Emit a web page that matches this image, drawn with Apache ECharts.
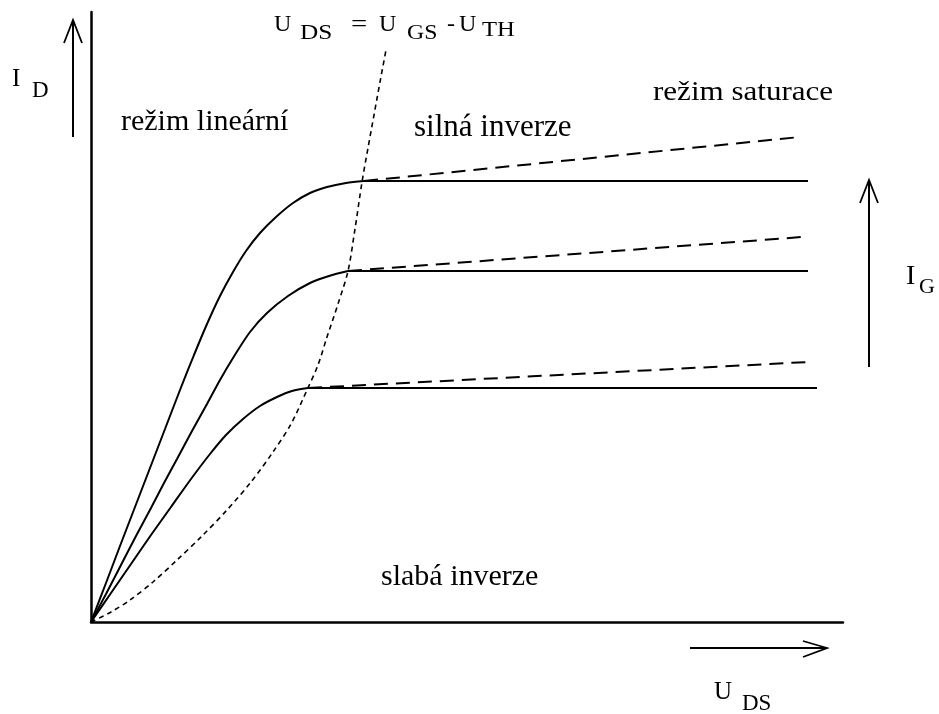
<!DOCTYPE html>
<html>
<head>
<meta charset="utf-8">
<script src="https://cdn.jsdelivr.net/npm/echarts@6/dist/echarts.min.js"></script>
<style>html,body{margin:0;padding:0;background:#fff;}#c{width:939px;height:714px;}</style>
</head>
<body>
<div id="c"></div>
<script>
// Output characteristic curves (schematic units: x = U_DS, y = I_D)
const topCurve = [[0,0],[15,39],[29,76],[44,115],[59,154],[74,193],[89,232],[103,267],[116,298],[129,326],[142,350],[155,371],[169,389],[185,405],[202,419],[219,429],[236,435],[255,439],[273,441]];
const topFlat = [[273,441],[717,441]];
const topSat = [[273,441],[709,485]];
const midCurve = [[0,0],[15,28],[30,57],[45,86],[60,114],[73,139],[86,163],[101,191],[116,218],[129,242],[142,264],[159,290],[176,309],[197,326],[219,339],[238,346],[257,351]];
const midFlat = [[257,351],[717,351]];
const midSat = [[257,351],[711,385]];
const lowCurve = [[0,0],[20,29],[40,58],[60,87],[80,115],[100,143],[119,168],[135,187],[152,203],[169,216],[186,225],[201,231],[217,234]];
const lowFlat = [[217,234],[726,234]];
const lowSat = [[217,234],[717,260]];
const boundary = [[0,0],[20,10],[39,22],[62,40],[86,62],[111,86],[136,112],[160,140],[182,170],[200,198],[216,232],[227,257],[236,285],[247,318],[257,351],[264,393],[271,440],[277,474],[283,507],[289,540],[295,572]];

const chart = echarts.init(document.getElementById('c'), null, {renderer:'canvas'});
const FONT = '"Liberation Serif", "Times New Roman", serif';
const solid = {color:'#000', width:2};
const satDash = {color:'#000', width:2, type:[14,8]};
const bndDash = {color:'#000', width:1.6, type:[5,4]};
function ln(data, style, smooth){
  return {type:'line', data:data, showSymbol:false, symbol:'none', smooth:smooth||false, lineStyle:style, silent:true, animation:false, z:3};
}
function txt(s, x, base, size, sx){
  return {type:'text', x:x, y:base - 0.33*size, scaleX: sx||1, silent:true,
    style:{text:s, fill:'#000', font: size + 'px ' + FONT, verticalAlign:'middle', align:'left'}};
}
const arrowStyle = {stroke:'#000', lineWidth:2, fill:null};
const headStyle = {stroke:'#000', lineWidth:1.8, fill:null};
const graphics = [
  {type:'line', shape:{x1:73,y1:20,x2:73,y2:137}, style:arrowStyle, silent:true},
  {type:'polyline', shape:{points:[[64,43],[73,20],[82,43]]}, style:headStyle, silent:true},
  {type:'line', shape:{x1:690,y1:648,x2:827,y2:648}, style:arrowStyle, silent:true},
  {type:'polyline', shape:{points:[[803,641],[827,648],[803,657]]}, style:headStyle, silent:true},
  {type:'line', shape:{x1:869,y1:180,x2:869,y2:367}, style:arrowStyle, silent:true},
  {type:'polyline', shape:{points:[[860,203],[869,180],[878,203]]}, style:headStyle, silent:true},
  txt('I', 12, 88, 25), txt('D', 32, 99, 23),
  txt('režim lineární', 121, 132, 30),
  txt('U', 274, 33, 24), txt('DS', 300, 40, 22, 1.15), txt('=', 351, 33, 24, 1.2),
  txt('U', 379, 33, 24), txt('GS', 407, 40, 22, 1.08), txt('-', 447, 33, 24),
  txt('U', 459, 33, 24), txt('TH', 482, 37, 22, 1.12),
  txt('silná inverze', 414, 138, 31),
  txt('režim saturace', 653, 102, 27, 1.15),
  txt('slabá inverze', 381, 587, 30),
  txt('I', 906, 286, 28), txt('G', 919, 294, 22),
  txt('U', 714, 701, 25), txt('DS', 742, 712, 23)
];
chart.setOption({
  animation:false,
  backgroundColor:'#fff',
  grid:{left:91, right:96, top:12, bottom:92, containLabel:false},
  xAxis:{type:'value', min:0, max:752, axisLine:{show:true, onZero:false, lineStyle:{color:'#000', width:2.5}}, axisTick:{show:false}, axisLabel:{show:false}, splitLine:{show:false}},
  yAxis:{type:'value', min:0, max:610, axisLine:{show:true, onZero:false, lineStyle:{color:'#000', width:2.5}}, axisTick:{show:false}, axisLabel:{show:false}, splitLine:{show:false}},
  series:[
    ln(topCurve, solid, 0.3), ln(topFlat, solid), ln(topSat, satDash),
    ln(midCurve, solid, 0.3), ln(midFlat, solid), ln(midSat, satDash),
    ln(lowCurve, solid, 0.3), ln(lowFlat, solid), ln(lowSat, satDash),
    ln(boundary, bndDash, 0.3)
  ],
  graphic: graphics
});
</script>
</body>
</html>
